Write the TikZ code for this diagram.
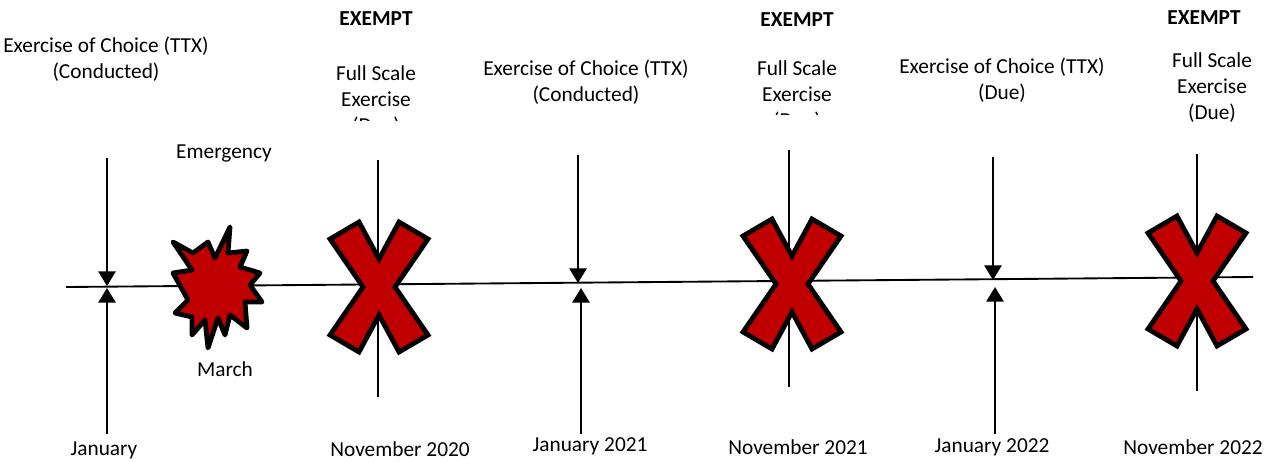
\documentclass[tikz,border=0pt]{standalone}
\usepackage{fontspec}
\setmainfont{Carlito}
\usetikzlibrary{arrows.meta}
\definecolor{crossred}{HTML}{C00000}

\tikzset{
  lbl/.style={font=\fontsize{16pt}{19.5pt}\selectfont, align=center, inner sep=0pt},
  marker/.style={line width=1.4pt},
  pointer/.style={marker, -{Triangle[width=13pt,length=11pt]}},
  burst/.style={fill=crossred, draw=black, line width=3.6pt, line join=round},
  exempt cross/.pic={
    \draw[burst, line join=miter] (-20,-65) -- (0,-28) -- (20,-65) -- (49,-48) -- (16,0) -- (49,48)
      -- (20,65) -- (0,28) -- (-20,65) -- (-49,48) -- (-16,0) -- (-49,-48) -- cycle;
  }
}

\begin{document}
\begin{tikzpicture}[x=0.75pt,y=-0.75pt]
    \useasboundingbox (0,0) rectangle (1275,461);

    % Draw the timeline
    \coordinate (start) at (66,287);
    \coordinate (end) at (1253,277);
    \draw[marker] (start) -- (end);

    % Exercise of choice arrows
    \coordinate (jan top) at (107,158);
    \coordinate (jan hit) at (107,286);
    \coordinate (jan foot) at (107,434);
    \coordinate (jan rise) at (107,288);
    \draw[pointer] (jan top) -- (jan hit);
    \draw[pointer] (jan foot) -- (jan rise);

    \coordinate (jan21 top) at (578,155);
    \coordinate (jan21 hit) at (578,283);
    \coordinate (jan21 foot) at (581,434);
    \coordinate (jan21 rise) at (581,288);
    \draw[pointer] (jan21 top) -- (jan21 hit);
    \draw[pointer] (jan21 foot) -- (jan21 rise);

    \coordinate (jan22 top) at (993,157);
    \coordinate (jan22 hit) at (993,280);
    \coordinate (jan22 foot) at (995,434);
    \coordinate (jan22 rise) at (995,287);
    \draw[pointer] (jan22 top) -- (jan22 hit);
    \draw[pointer] (jan22 foot) -- (jan22 rise);

    % Full scale exercise lines
    \coordinate (nov20 top) at (378,160);
    \coordinate (nov20 foot) at (378,397);
    \coordinate (nov21 top) at (789,150);
    \coordinate (nov21 foot) at (789,387);
    \coordinate (nov22 top) at (1197,154);
    \coordinate (nov22 foot) at (1197,391);
    \draw[marker] (nov20 top) -- (nov20 foot);
    \draw[marker] (nov21 top) -- (nov21 foot);
    \draw[marker] (nov22 top) -- (nov22 foot);

    % Crosses over the exempt exercises
    \pic at (379,287) {exempt cross};
    \pic at (792,284) {exempt cross};
    \pic at (1197,281) {exempt cross};

    % Emergency burst
    \draw[burst] (173,242) -- (193,253) -- (208,242) -- (215,258) -- (230,227) -- (228,253)
      -- (247,251) -- (240,267) -- (260,273) -- (250,285) -- (262,302) -- (245,302)
      -- (247,328) -- (230,315) -- (225,335) -- (218,318) -- (208,348) -- (205,320)
      -- (192,335) -- (192,317) -- (175,313) -- (188,300) -- (173,273) -- (192,270) -- cycle;

    % Labels above the line
    \node[lbl] (choice20) at (106,59) {Exercise of Choice (TTX)\\(Conducted)};
    \node[lbl] (exempt20) at (376,19) {\textbf{EXEMPT}};
    \node[lbl] (emergency) at (224,153) {Emergency};
    \node[lbl] (choice21) at (586,82) {Exercise of Choice (TTX)\\(Conducted)};
    \node[lbl] (exempt21) at (797,20) {\textbf{EXEMPT}};
    \node[lbl] (choice22) at (1002,80) {Exercise of Choice (TTX)\\(Due)};
    \node[lbl] (exempt22) at (1204,18) {\textbf{EXEMPT}};
    \node[lbl] (full22) at (1212,88) {Full Scale\\Exercise\\(Due)};

    % Cut-off text boxes
    \begin{scope}
        \clip (320,40) rectangle (440,120);
        \node[lbl] (full20) at (376,101) {Full Scale\\Exercise\\(Due)};
    \end{scope}
    \begin{scope}
        \clip (730,40) rectangle (860,114);
        \node[lbl] (full21) at (797,96) {Full Scale\\Exercise\\(Due)};
    \end{scope}

    % Dates below the line
    \node[lbl] (march) at (225,369) {March};
    \node[lbl] (jan) at (104,450) {January};
    \node[lbl] (nov20) at (400,449) {November 2020};
    \node[lbl] (jan21) at (590,446) {January 2021};
    \node[lbl] (nov21) at (798,447) {November 2021};
    \node[lbl] (jan22) at (992,447) {January 2022};
    \node[lbl] (nov22) at (1193,447) {November 2022};

\end{tikzpicture}
\end{document}
